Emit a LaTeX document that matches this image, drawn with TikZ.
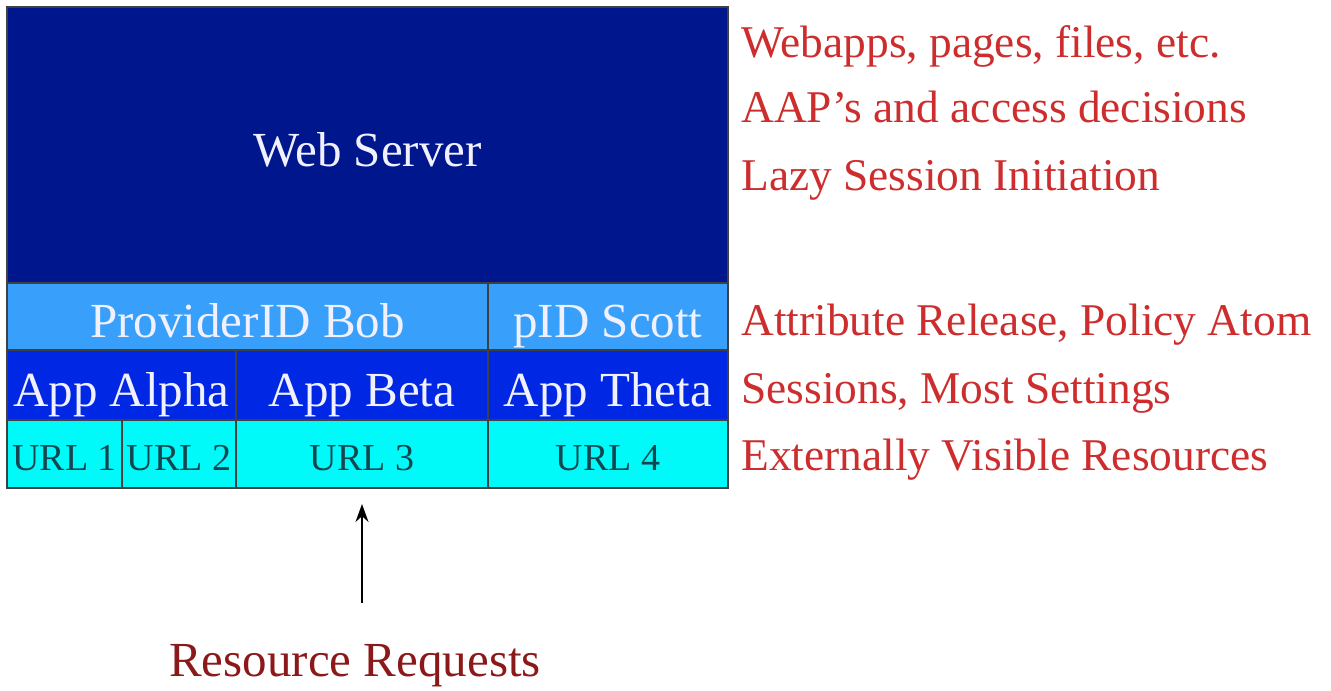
\documentclass[tikz,border=0pt]{standalone}
\usepackage{fontspec}
\setmainfont{Liberation Serif}
\usetikzlibrary{positioning,arrows.meta}
\definecolor{serverblue}{RGB}{0,22,140}
\definecolor{providerblue}{RGB}{56,160,250}
\definecolor{appblue}{RGB}{0,40,228}
\definecolor{urlcyan}{RGB}{0,250,250}
\definecolor{urltext}{RGB}{20,70,80}
\definecolor{notered}{RGB}{205,45,45}
\definecolor{reqred}{RGB}{140,25,25}
\begin{document}
\begin{tikzpicture}
[
    x=0.5pt, y=-0.5pt,
    node distance=0pt,
    cell/.style={draw=black!75, line width=0.6pt, inner sep=0pt, outer sep=0pt,
        text height=21pt, text depth=0pt, text=white!94!blue,
        font=\fontsize{24.5}{26}\selectfont},
    providercell/.style={cell, fill=providerblue, minimum height=33.5pt},
    appcell/.style={cell, fill=appblue, minimum height=35pt},
    urlcell/.style={cell, fill=urlcyan, minimum height=34pt, text=urltext,
        text height=16.5pt, font=\fontsize{19}{20}\selectfont},
    note/.style={anchor=base west, inner sep=0pt, text=notered,
        font=\fontsize{22.7}{24}\selectfont},
]
\useasboundingbox (0,0) rectangle (1331,690);
\node[cell, fill=serverblue, minimum width=360.5pt, minimum height=138pt, anchor=north west] (server) at (7,7) {Web Server};
\node[providercell, minimum width=240.5pt, below right=of server.south west] (bob) {ProviderID Bob};
\node[providercell, minimum width=120pt, right=of bob] (scott) {pID Scott};
\node[appcell, minimum width=114.5pt, below right=of bob.south west] (alpha) {App Alpha};
\node[appcell, minimum width=126pt, right=of alpha] (beta) {App Beta};
\node[appcell, minimum width=120pt, right=of beta] (theta) {App Theta};
\node[urlcell, minimum width=57.5pt, below right=of alpha.south west] (url1) {URL 1};
\node[urlcell, minimum width=57pt, right=of url1] (url2) {URL 2};
\node[urlcell, minimum width=126pt, right=of url2] (url3) {URL 3};
\node[urlcell, minimum width=120pt, right=of url3] (url4) {URL 4};
\node[note] (webapps) at (741,58) {Webapps, pages, files, etc.};
\node[note] (aap) at (741,122) {AAP’s and access decisions};
\node[note] (lazy) at (741,190) {Lazy Session Initiation};
\node[note] (attr) at (741,335) {Attribute Release, Policy Atom};
\node[note] (sessions) at (741,403) {Sessions, Most Settings};
\node[note] (external) at (741,470) {Externally Visible Resources};
\node[note, anchor=base, text=reqred, font=\fontsize{24.5}{26}\selectfont] (requests) at (355,676) {Resource Requests};
\coordinate (tail) at (362,603);
\draw[-{Stealth[length=9pt,width=6.5pt]}, line width=0.9pt, shorten >=8pt] (tail) -- (tail |- url3.south);
\end{tikzpicture}
\end{document}
